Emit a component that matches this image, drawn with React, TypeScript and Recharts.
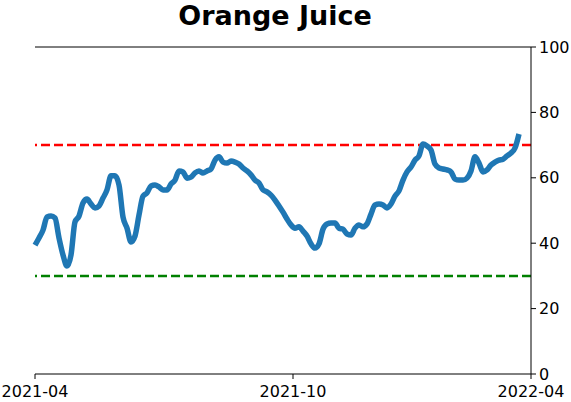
import React from 'react';
import { LineChart, Line, XAxis, YAxis, ReferenceLine } from 'recharts';

// one sample every ~3 days
const score = [
  39.4, 41.6, 44.0, 48.0, 48.3, 47.7, 41.6, 36.4, 33.0, 36.4,
  46.5, 48.3, 52.3, 53.5, 52.0, 50.8, 51.4, 53.8, 56.3, 60.6,
  60.6, 57.8, 48.0, 44.6, 40.4, 42.2, 48.6, 54.4, 55.4, 57.5,
  57.8, 57.2, 56.3, 56.3, 58.1, 59.3, 62.1, 61.8, 59.9, 60.2,
  61.5, 62.1, 61.5, 62.1, 62.7, 65.4, 66.4, 64.8, 64.5, 65.1,
  64.8, 64.2, 63.0, 62.1, 60.9, 59.3, 58.4, 56.3, 55.7, 54.7,
  53.2, 51.4, 49.5, 47.4, 45.6, 44.6, 45.0, 43.7, 42.2, 39.8,
  38.5, 39.8, 44.3, 45.9, 46.2, 46.2, 44.6, 44.3, 42.8, 42.5,
  44.6, 45.6, 45.0, 45.9, 48.9, 51.7, 52.0, 51.7, 50.8, 52.0,
  54.4, 56.0, 59.3, 61.8, 63.3, 65.4, 66.7, 70.3, 69.7, 68.5,
  64.2, 63.0, 62.7, 62.4, 61.8, 59.6, 59.3, 59.3, 59.9, 62.1,
  66.4, 64.5, 61.8, 62.4, 63.9, 64.8, 65.4, 65.7, 66.7, 67.6,
  69.1, 73.4
];

const xTicks = [0, 64.5, 124];
const xTickLabels = ['2021-04', '2021-10', '2022-04'];
const yTicks = [0, 20, 40, 60, 80, 100];
const upperBand = 70;
const lowerBand = 30;

const data = score.map((v, i) => ({ t: i, v }));

const font = 'DejaVu Sans, sans-serif';

export default function App() {
  return (
    <div style={{ position: 'absolute', left: 0, top: 0, width: 571, height: 402, background: '#fff', fontFamily: font }}>
      <div
        style={{
          position: 'absolute',
          top: 0,
          left: 0,
          width: 550,
          textAlign: 'center',
          fontSize: 27,
          fontWeight: 'bold',
          color: '#000',
        }}
      >
        Orange Juice
      </div>
      <LineChart width={571} height={402} data={data} margin={{ top: 47, right: 0, left: 35, bottom: 0 }}>
        <XAxis
          dataKey="t"
          type="number"
          domain={[0, 124]}
          ticks={xTicks}
          tickFormatter={(v) => xTickLabels[xTicks.indexOf(v)]}
          height={28}
          tickSize={5}
          tickMargin={7}
          stroke="#000"
          tick={{ fill: '#000', fontSize: 16, fontFamily: font }}
          interval={0}
        />
        <YAxis yAxisId="l" domain={[0, 100]} width={0} tick={false} tickLine={false} stroke="#000" />
        <YAxis
          yAxisId="r"
          orientation="right"
          domain={[0, 100]}
          ticks={yTicks}
          width={40}
          tickSize={5}
          tickMargin={3}
          stroke="#000"
          tick={{ fill: '#000', fontSize: 16, fontFamily: font, textAnchor: 'start' }}
          interval={0}
        />
        <ReferenceLine yAxisId="r" y={100} stroke="#000" strokeWidth={1} />
        <ReferenceLine yAxisId="r" y={upperBand} stroke="#ff0000" strokeWidth={2.5} strokeDasharray="9 4" />
        <ReferenceLine yAxisId="r" y={lowerBand} stroke="#008000" strokeWidth={2.5} strokeDasharray="9 4" />
        <Line
          yAxisId="r"
          dataKey="v"
          type="monotone"
          stroke="#1f77b4"
          strokeWidth={5.5}
          dot={false}
          isAnimationActive={false}
        />
      </LineChart>
    </div>
  );
}
